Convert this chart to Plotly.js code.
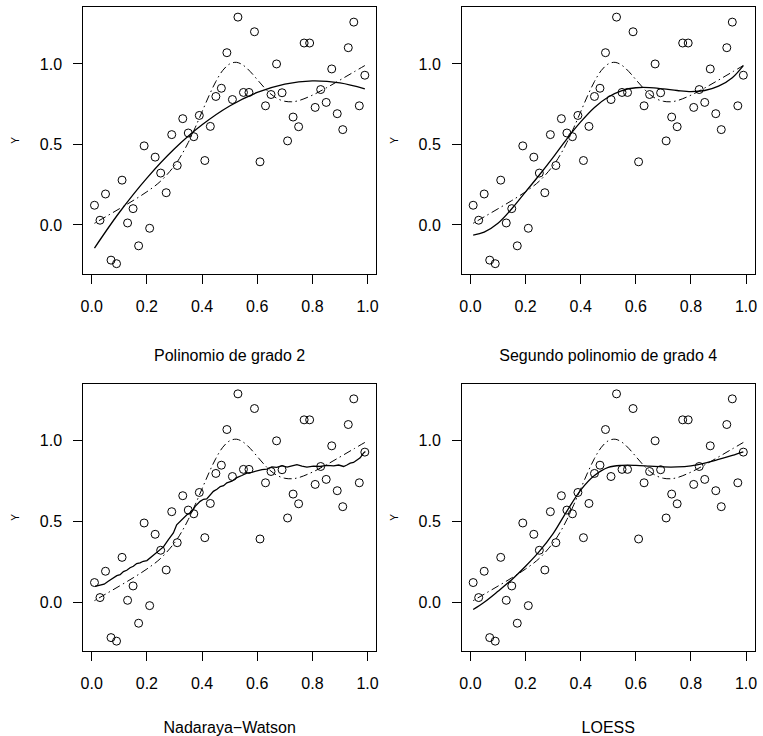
<!DOCTYPE html>
<html>
<head>
<meta charset="utf-8">
<script src="https://cdn.plot.ly/plotly-3.0.1.min.js"></script>
<style>
html, body { margin: 0; padding: 0; background: #fff; }
#chart { width: 763px; height: 736px; }
</style>
</head>
<body>
<div id="chart"></div>
<script>
// Observed sample
var obsX = [0.01, 0.03, 0.05, 0.07, 0.09, 0.11, 0.13, 0.15, 0.17, 0.19,
            0.21, 0.23, 0.25, 0.27, 0.29, 0.31, 0.33, 0.35, 0.37, 0.39,
            0.41, 0.43, 0.45, 0.47, 0.49, 0.51, 0.53, 0.55, 0.57, 0.59,
            0.61, 0.63, 0.65, 0.67, 0.69, 0.71, 0.73, 0.75, 0.77, 0.79,
            0.81, 0.83, 0.85, 0.87, 0.89, 0.91, 0.93, 0.95, 0.97, 0.99];
var obsY = [0.122, 0.029, 0.192, -0.219, -0.241, 0.278, 0.012, 0.101, -0.130, 0.491,
            -0.021, 0.421, 0.322, 0.200, 0.561, 0.369, 0.660, 0.571, 0.548, 0.680,
            0.400, 0.612, 0.798, 0.849, 1.070, 0.779, 1.291, 0.823, 0.823, 1.200,
            0.392, 0.740, 0.810, 1.000, 0.821, 0.522, 0.670, 0.610, 1.130, 1.130,
            0.730, 0.841, 0.761, 0.969, 0.691, 0.592, 1.101, 1.260, 0.740, 0.930];

// True regression function (dash-dot)
var trueX = [0.01, 0.05, 0.10, 0.15, 0.20, 0.25, 0.30, 0.325, 0.35, 0.375, 0.40, 0.425,
             0.45, 0.475, 0.50, 0.525, 0.55, 0.575, 0.60, 0.625, 0.65, 0.675, 0.70,
             0.725, 0.75, 0.80, 0.85, 0.90, 0.95, 0.99];
var trueY = [0.010, 0.050, 0.100, 0.151, 0.206, 0.272, 0.368, 0.433, 0.512, 0.604, 0.703, 0.802,
             0.891, 0.960, 1.000, 1.010, 0.991, 0.952, 0.903, 0.854, 0.812, 0.783, 0.768,
             0.765, 0.772, 0.806, 0.851, 0.900, 0.950, 0.990];

// Fitted curves
var quadX = [0.01, 0.10, 0.20, 0.30, 0.40, 0.50, 0.60, 0.70, 0.80, 0.90, 0.99];
var quadY = [-0.144, 0.077, 0.291, 0.473, 0.622, 0.739, 0.823, 0.875, 0.895, 0.882, 0.845];

var poly4X = [0.01, 0.05, 0.10, 0.15, 0.20, 0.25, 0.30, 0.35, 0.40, 0.45, 0.50,
              0.55, 0.60, 0.65, 0.70, 0.75, 0.80, 0.85, 0.90, 0.95, 0.99];
var poly4Y = [-0.063, -0.045, 0.010, 0.100, 0.205, 0.310, 0.420, 0.535, 0.640, 0.730, 0.795,
              0.835, 0.852, 0.853, 0.845, 0.835, 0.828, 0.835, 0.862, 0.915, 0.990];

var nwX = [0.012, 0.030, 0.045, 0.060, 0.073, 0.091, 0.103, 0.115, 0.127, 0.139, 0.151, 0.163,
           0.175, 0.187, 0.200, 0.212, 0.224, 0.236, 0.248, 0.260, 0.278, 0.296, 0.308,
           0.327, 0.345, 0.363, 0.375, 0.393, 0.405, 0.417, 0.429, 0.441, 0.454, 0.466,
           0.478, 0.490, 0.508, 0.526, 0.544, 0.562, 0.580, 0.599, 0.617, 0.635, 0.653,
           0.671, 0.690, 0.708, 0.726, 0.744, 0.762, 0.780, 0.804, 0.828, 0.852, 0.877,
           0.895, 0.913, 0.925, 0.937, 0.949, 0.961, 0.973, 0.985, 0.992];
var nwY = [0.099, 0.108, 0.112, 0.130, 0.145, 0.165, 0.171, 0.190, 0.198, 0.214, 0.223, 0.240,
           0.244, 0.254, 0.258, 0.275, 0.290, 0.306, 0.320, 0.343, 0.388, 0.429, 0.480,
           0.511, 0.542, 0.560, 0.594, 0.625, 0.638, 0.640, 0.665, 0.687, 0.700, 0.717,
           0.722, 0.740, 0.750, 0.772, 0.785, 0.800, 0.805, 0.816, 0.822, 0.825, 0.838,
           0.836, 0.846, 0.837, 0.845, 0.852, 0.843, 0.837, 0.843, 0.841, 0.848, 0.845,
           0.850, 0.841, 0.850, 0.862, 0.866, 0.882, 0.895, 0.924, 0.934];

var loessX = [0.01, 0.05, 0.10, 0.15, 0.20, 0.25, 0.30, 0.35, 0.40, 0.45, 0.50,
              0.55, 0.60, 0.65, 0.70, 0.75, 0.80, 0.85, 0.90, 0.95, 0.99];
var loessY = [-0.045, 0.000, 0.068, 0.140, 0.223, 0.315, 0.425, 0.565, 0.695, 0.785, 0.835,
              0.848, 0.848, 0.843, 0.838, 0.838, 0.845, 0.862, 0.885, 0.910, 0.932];

// Axis ticks and panel titles
var xTicks = [0, 0.2, 0.4, 0.6, 0.8, 1.0];
var xTickText = ['0.0', '0.2', '0.4', '0.6', '0.8', '1.0'];
var yTicks = [0, 0.5, 1.0];
var yTickText = ['0.0', '0.5', '1.0'];
var panelTitles = ['Polinomio de grado 2', 'Segundo polinomio de grado 4',
                   'Nadaraya\u2212Watson', 'LOESS'];
var yLabel = 'Y';

var FONT = 'Liberation Sans, Arial, Helvetica, sans-serif';
var fits = [[quadX, quadY, 'spline'], [poly4X, poly4Y, 'spline'],
            [nwX, nwY, 'linear'], [loessX, loessY, 'spline']];

var traces = [];
fits.forEach(function (f, i) {
  var xa = i === 0 ? 'x' : 'x' + (i + 1);
  var ya = i === 0 ? 'y' : 'y' + (i + 1);
  traces.push({
    x: obsX, y: obsY, xaxis: xa, yaxis: ya, type: 'scatter', mode: 'markers',
    marker: { symbol: 'circle-open', size: 8, color: '#000', line: { width: 1, color: '#000' } },
    hoverinfo: 'skip', showlegend: false
  });
  traces.push({
    x: trueX, y: trueY, xaxis: xa, yaxis: ya, type: 'scatter', mode: 'lines',
    line: { color: '#000', width: 1, dash: '1.5px,3.5px,8px,3.5px', shape: 'spline' },
    hoverinfo: 'skip', showlegend: false
  });
  traces.push({
    x: f[0], y: f[1], xaxis: xa, yaxis: ya, type: 'scatter', mode: 'lines',
    line: { color: '#000', width: 1.3, shape: f[2] },
    hoverinfo: 'skip', showlegend: false
  });
});

var W = 763, H = 736;
var colDom = [[83.3 / W, 376 / W], [462 / W, 754.5 / W]];
var rowDom = [[1 - 273.5 / H, 1 - 7.3 / H], [1 - 651 / H, 1 - 384 / H]];

function xAxis(dom, anchor, title) {
  return {
    domain: dom, anchor: anchor, range: [-0.0305, 1.0305],
    tickmode: 'array', tickvals: xTicks, ticktext: xTickText,
    ticks: 'outside', ticklen: 9, tickwidth: 1, tickcolor: '#000',
    ticklabelstandoff: 9,
    showline: true, mirror: true, linecolor: '#000', linewidth: 1,
    showgrid: false, zeroline: false, fixedrange: true,
    tickfont: { family: FONT, size: 16, color: '#000' },
    title: { text: title, standoff: 36, font: { family: FONT, size: 16, color: '#000' } }
  };
}
function yAxis(dom, anchor) {
  return {
    domain: dom, anchor: anchor, range: [-0.302, 1.352],
    tickmode: 'array', tickvals: yTicks, ticktext: yTickText,
    ticks: 'outside', ticklen: 9, tickwidth: 1, tickcolor: '#000',
    ticklabelstandoff: 8,
    showline: true, mirror: true, linecolor: '#000', linewidth: 1,
    showgrid: false, zeroline: false, fixedrange: true,
    tickfont: { family: FONT, size: 16, color: '#000' },
    title: { text: yLabel, standoff: 18, font: { family: FONT, size: 10, color: '#000' } }
  };
}

var layout = {
  width: W, height: H,
  margin: { l: 0, r: 0, t: 0, b: 0 },
  paper_bgcolor: '#fff', plot_bgcolor: '#fff',
  font: { family: FONT, color: '#000' },
  showlegend: false,
  xaxis:  xAxis(colDom[0], 'y',  panelTitles[0]),
  yaxis:  yAxis(rowDom[0], 'x'),
  xaxis2: xAxis(colDom[1], 'y2', panelTitles[1]),
  yaxis2: yAxis(rowDom[0], 'x2'),
  xaxis3: xAxis(colDom[0], 'y3', panelTitles[2]),
  yaxis3: yAxis(rowDom[1], 'x3'),
  xaxis4: xAxis(colDom[1], 'y4', panelTitles[3]),
  yaxis4: yAxis(rowDom[1], 'x4')
};

Plotly.newPlot('chart', traces, layout, { staticPlot: true, displayModeBar: false });
</script>
</body>
</html>
